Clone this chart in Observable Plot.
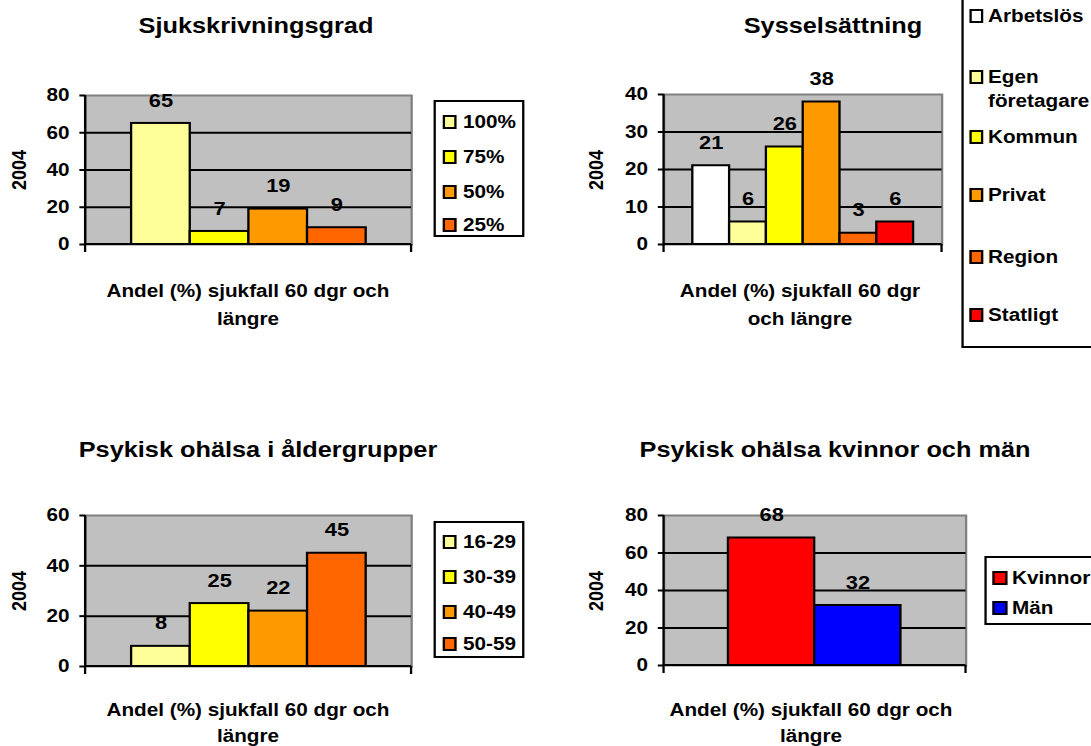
<!DOCTYPE html>
<html><head><meta charset="utf-8">
<script src="https://cdn.jsdelivr.net/npm/d3@7"></script>
<script src="https://cdn.jsdelivr.net/npm/@observablehq/plot@0.6"></script>
<style>
html,body{margin:0;padding:0;background:#fff;overflow:hidden;width:1091px;height:746px;}
#stage{position:absolute;left:0;top:0;width:949px;height:746px;transform:scaleX(1.15);transform-origin:0 0;
  font-family:"Liberation Sans",Arial,sans-serif;font-weight:bold;color:#000;}
.abs{position:absolute;white-space:nowrap;}
</style></head><body><div id="stage"></div>
<script>
// ---- data ----
const sjukTitle = "Sjukskrivningsgrad";
const sjukCats = ["100%", "75%", "50%", "25%"];
const sjukVals = [65, 7, 19, 9];
const sjukColors = ["#FFFF99", "#FFFF00", "#FF9900", "#FF6600"];
const sjukTicks = [0, 20, 40, 60, 80];

const syssTitle = "Sysselsättning";
const syssCats = ["Arbetslös", "Egen företagare", "Kommun", "Privat", "Region", "Statligt"];
const syssVals = [21, 6, 26, 38, 3, 6];
const syssColors = ["#FFFFFF", "#FFFF99", "#FFFF00", "#FF9900", "#FF6600", "#FF0000"];
const syssTicks = [0, 10, 20, 30, 40];

const aldTitle = "Psykisk ohälsa i åldergrupper";
const aldCats = ["16-29", "30-39", "40-49", "50-59"];
const aldVals = [8, 25, 22, 45];
const aldColors = ["#FFFF99", "#FFFF00", "#FF9900", "#FF6600"];
const aldTicks = [0, 20, 40, 60];

const konTitle = "Psykisk ohälsa kvinnor och män";
const konCats = ["Kvinnor", "Män"];
const konVals = [68, 32];
const konColors = ["#FF0000", "#0000FF"];
const konTicks = [0, 20, 40, 60, 80];

const yLabel = "2004";
const xLabelA = ["Andel (%) sjukfall 60 dgr och", "längre"];
const xLabelB = ["Andel (%) sjukfall 60 dgr", "och längre"];

// ---- layout ----
const S = 1.15;
const FONT = '"Liberation Sans", Arial, sans-serif';
const stage = document.getElementById("stage");

function div(html, css) {
  const d = document.createElement("div");
  d.className = "abs";
  d.innerHTML = html;
  Object.assign(d.style, css);
  stage.appendChild(d);
  return d;
}

function barPanel({cats, vals, colors, ticks, box}) {
  const data = cats.map((c, i) => ({cat: c, val: vals[i], color: colors[i]}));
  const yMax = ticks[ticks.length - 1];
  const mL = 50, mR = 4, mT = 40, mB = 14;
  const x0 = box.left / S, x1 = box.right / S;
  const width = (x1 - x0) + mL + mR;
  const height = (box.bottom - box.top) + mT + mB;
  const axesMark = (index, scales, values, dims) => {
    const g = d3.create("svg:g").attr("stroke", "#000").attr("stroke-width", 2).attr("fill", "none");
    const l = dims.marginLeft, r = dims.width - dims.marginRight;
    const t = dims.marginTop, b = dims.height - dims.marginBottom;
    g.append("line").attr("x1", l).attr("x2", l).attr("y1", t).attr("y2", b);
    g.append("line").attr("x1", l).attr("x2", r).attr("y1", b).attr("y2", b);
    g.append("line").attr("x1", l).attr("x2", l).attr("y1", b).attr("y2", b + 8);
    g.append("line").attr("x1", r).attr("x2", r).attr("y1", b).attr("y2", b + 8);
    return g.node();
  };
  const svg = Plot.plot({
    width, height, marginLeft: mL, marginRight: mR, marginTop: mT, marginBottom: mB,
    style: {fontFamily: FONT, fontSize: "18px", fontWeight: "bold", background: "transparent", overflow: "visible", color: "#000"},
    x: {domain: cats, paddingInner: 0, paddingOuter: 0.75, axis: null},
    y: {domain: [0, yMax], axis: null},
    color: {type: "identity"},
    marks: [
      Plot.frame({fill: "#C0C0C0", stroke: "#808080", strokeWidth: 2}),
      Plot.ruleY(ticks.filter(t => t > 0 && t < yMax), {stroke: "#000", strokeWidth: 2}),
      Plot.barY(data, {x: "cat", y: "val", fill: d => d.color, stroke: "#000", strokeWidth: 2}),
      axesMark,
      Plot.axisY({ticks, tickSize: 5, tickPadding: 9, stroke: "#000", strokeWidth: 2, fontSize: 18, fontWeight: "bold", fill: "#000", label: null}),
      Plot.text(data, {x: "cat", y: "val", text: d => String(d.val), dy: -23, fontSize: 19, fontWeight: "bold", fill: "#000"})
    ]
  });
  svg.style.position = "absolute";
  svg.style.left = (x0 - mL) + "px";
  svg.style.top = (box.top - mT) + "px";
  svg.style.maxWidth = "none";
  stage.appendChild(svg);
}

function title(text, cx, baseline) {
  div(text, {left: (cx / S) + "px", top: (baseline - 18.6) + "px", fontSize: "22px", lineHeight: "22px", transform: "translateX(-50%)"});
}
function xTitle(lines, cx, baseline, lh) {
  const L = lh || 28;
  div(lines.join("<br>"), {left: (cx / S) + "px", top: (baseline - (L - 20.1) / 2 - 16.3) + "px", fontSize: "18px", lineHeight: L + "px", textAlign: "center", transform: "translateX(-50%)"});
}
function yTitle(text, cx, cy) {
  div(text, {left: (cx / S) + "px", top: cy + "px", fontSize: "18px", lineHeight: "18px", transform: "translate(-50%,-50%) rotate(-90deg)"});
}
function legend(box, cats, colors, centers, swLeft, txtLeft) {
  div("", {left: (box.left / S) + "px", top: box.top + "px", width: ((box.right - box.left) / S) + "px",
    height: (box.bottom - box.top) + "px", border: "2px solid #000", boxSizing: "border-box", background: "#fff"});
  cats.forEach((c, i) => {
    const cy = centers[i];
    div("", {left: (swLeft / S) + "px", top: (cy - 7) + "px", width: (14 / S) + "px", height: "14px",
      border: "2px solid #000", boxSizing: "border-box", background: colors[i]});
    const parts = c === "Egen företagare" ? ["Egen", "företagare"] : [c];
    div(parts.join("<br>"), {left: (txtLeft / S) + "px", top: (cy - 12) + "px", fontSize: "18px", lineHeight: "24px"});
  });
}

// Panel 1
title(sjukTitle, 256, 34);
barPanel({cats: sjukCats, vals: sjukVals, colors: sjukColors, ticks: sjukTicks, box: {left: 85, right: 411, top: 95, bottom: 244}});
yTitle(yLabel, 20, 170);
xTitle(xLabelA, 248, 297);
legend({left: 434, right: 524, top: 100, bottom: 237}, sjukCats, sjukColors, [122, 157, 192, 225], 443, 463);

// Panel 2
title(syssTitle, 833, 34);
barPanel({cats: syssCats, vals: syssVals, colors: syssColors, ticks: syssTicks, box: {left: 663, right: 941, top: 94, bottom: 244}});
yTitle(yLabel, 596, 170);
xTitle(xLabelB, 800, 297);
legend({left: 961, right: 1110, top: -2, bottom: 348}, syssCats, syssColors, [16, 77, 137, 195, 257, 315], 969, 988);

// Panel 3
title(aldTitle, 258, 458);
barPanel({cats: aldCats, vals: aldVals, colors: aldColors, ticks: aldTicks, box: {left: 85, right: 411, top: 515, bottom: 666}});
yTitle(yLabel, 20, 591);
xTitle(xLabelA, 248, 716, 26);
legend({left: 434, right: 524, top: 521, bottom: 658}, aldCats, aldColors, [542, 577, 612, 644], 443, 463);

// Panel 4
title(konTitle, 835, 458);
barPanel({cats: konCats, vals: konVals, colors: konColors, ticks: konTicks, box: {left: 663, right: 965, top: 515, bottom: 665}});
yTitle(yLabel, 596, 591);
xTitle(xLabelA, 811, 716, 26);
legend({left: 984, right: 1110, top: 556, bottom: 625}, konCats, konColors, [578, 608], 993, 1012);
</script>
</body></html>
